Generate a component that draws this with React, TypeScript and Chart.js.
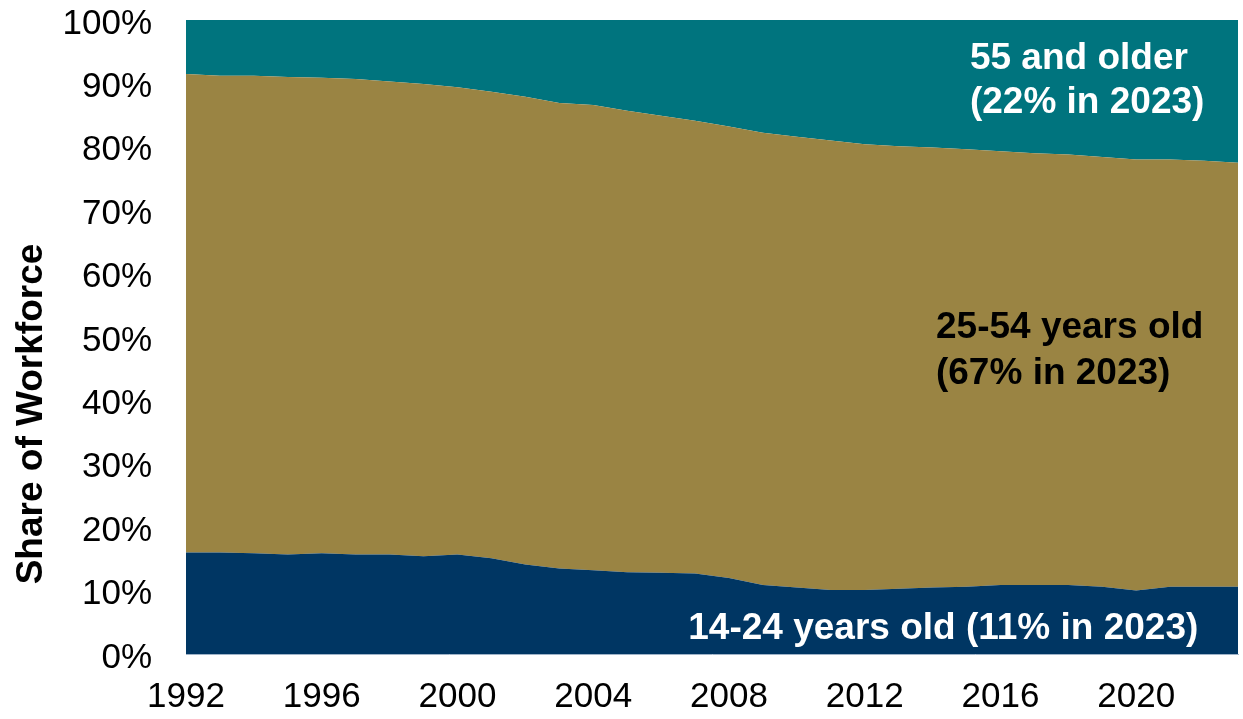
import React, { useEffect, useRef } from "react";
import { Chart, registerables } from "chart.js";

Chart.register(...registerables);

const years: string[] = [
  "1992", "1993", "1994", "1995", "1996", "1997", "1998", "1999", "2000", "2001",
  "2002", "2003", "2004", "2005", "2006", "2007", "2008", "2009", "2010", "2011",
  "2012", "2013", "2014", "2015", "2016", "2017", "2018", "2019", "2020", "2021",
  "2022", "2023",
];

const youth: number[] = [
  16.0, 16.0, 15.9, 15.7, 15.9, 15.7, 15.7, 15.4, 15.7, 15.1,
  14.1, 13.5, 13.2, 12.9, 12.8, 12.7, 12.0, 10.9, 10.5, 10.1,
  10.1, 10.3, 10.5, 10.6, 10.9, 10.9, 10.9, 10.6, 10.0, 10.6,
  10.6, 10.6,
];

const prime: number[] = [
  75.5, 75.2, 75.3, 75.3, 75.0, 75.0, 74.6, 74.5, 73.7, 73.6,
  73.8, 73.4, 73.4, 72.8, 72.1, 71.4, 71.2, 71.3, 71.1, 70.9,
  70.3, 69.8, 69.4, 69.0, 68.4, 68.1, 67.9, 67.8, 68.0, 67.4,
  67.2, 66.9,
];

const older: number[] = [
  8.5, 8.8, 8.8, 9.0, 9.1, 9.3, 9.7, 10.1, 10.6, 11.3,
  12.1, 13.1, 13.4, 14.3, 15.1, 15.9, 16.8, 17.8, 18.4, 19.0,
  19.6, 19.9, 20.1, 20.4, 20.7, 21.0, 21.2, 21.6, 22.0, 22.0,
  22.2, 22.5,
];

const yTicks: number[] = [0, 10, 20, 30, 40, 50, 60, 70, 80, 90, 100];

const seriesNames: string[] = ["14-24 years old", "25-54 years old", "55 and older"];

const FONT = "'Liberation Sans', Arial, Helvetica, sans-serif";

const annotationPlugin = {
  id: "annotations",
  afterDatasetsDraw(chart: any) {
    const { ctx, scales } = chart;
    const x = scales.x;
    const y = scales.y;
    ctx.save();
    ctx.font = `bold 37px ${FONT}`;
    ctx.textBaseline = "middle";
    ctx.textAlign = "left";

    ctx.fillStyle = "#ffffff";
    ctx.fillText("55 and older", x.getPixelForValue(23.1), y.getPixelForValue(93.9));
    ctx.fillText("(22% in 2023)", x.getPixelForValue(23.1), y.getPixelForValue(86.9));

    ctx.fillStyle = "#000000";
    ctx.fillText("25-54 years old", x.getPixelForValue(22.1), y.getPixelForValue(51.4));
    ctx.fillText("(67% in 2023)", x.getPixelForValue(22.1), y.getPixelForValue(44.2));

    ctx.fillStyle = "#ffffff";
    ctx.fillText("14-24 years old (11% in 2023)", x.getPixelForValue(14.8), y.getPixelForValue(4.0));

    // y-axis title
    ctx.save();
    ctx.translate(32, 414);
    ctx.rotate(-Math.PI / 2);
    ctx.textAlign = "center";
    ctx.fillStyle = "#000000";
    ctx.font = `bold 37px ${FONT}`;
    ctx.fillText("Share of Workforce", 0, 0);
    ctx.restore();

    ctx.restore();
  },
};

export default function App() {
  const canvasRef = useRef<HTMLCanvasElement | null>(null);

  useEffect(() => {
    if (!canvasRef.current) return;
    const chart = new Chart(canvasRef.current, {
      type: "line",
      data: {
        labels: years,
        datasets: [
          {
            label: seriesNames[0],
            data: youth,
            backgroundColor: "#003663",
            borderColor: "#003663",
            borderWidth: 0,
            pointRadius: 0,
            tension: 0,
            fill: "origin",
          },
          {
            label: seriesNames[1],
            data: prime,
            backgroundColor: "#9A8443",
            borderColor: "#9A8443",
            borderWidth: 0,
            pointRadius: 0,
            tension: 0,
            fill: "-1",
          },
          {
            label: seriesNames[2],
            data: older,
            backgroundColor: "#00747E",
            borderColor: "#00747E",
            borderWidth: 0,
            pointRadius: 0,
            tension: 0,
            fill: "-1",
          },
        ],
      },
      options: {
        animation: false,
        responsive: true,
        maintainAspectRatio: false,
        layout: { padding: { left: 0, right: 5, top: 20, bottom: 0 } },
        plugins: {
          legend: { display: false },
          tooltip: { enabled: false },
          title: { display: false },
        },
        scales: {
          x: {
            type: "category",
            offset: false,
            grid: { display: false, drawTicks: false },
            border: { display: true, color: "#9fb3c8", width: 1 },
            ticks: {
              autoSkip: false,
              maxRotation: 0,
              minRotation: 0,
              padding: 22,
              color: "#000000",
              font: { family: FONT, size: 35 },
              callback: (_v: any, idx: number) => (idx % 4 === 0 ? years[idx] : ""),
            },
            afterFit: (scale: any) => {
              scale.height = 65;
              scale.paddingLeft = 0;
              scale.paddingRight = 0;
            },
          },
          y: {
            stacked: true,
            min: 0,
            max: 100,
            grid: { display: false, drawTicks: false },
            border: { display: false },
            afterBuildTicks: (scale: any) => {
              scale.ticks = yTicks.map((v) => ({ value: v }));
            },
            ticks: {
              padding: 34,
              labelOffset: 4,
              color: "#000000",
              font: { family: FONT, size: 35 },
              callback: (v: any) => `${v}%`,
            },
            afterFit: (scale: any) => {
              scale.width = 186;
              scale.paddingTop = 0;
              scale.paddingBottom = 0;
            },
          },
        },
      },
      plugins: [annotationPlugin],
    });
    return () => chart.destroy();
  }, []);

  return (
    <div style={{ position: "fixed", left: 0, top: 0, width: 1243, height: 719, background: "#fff" }}>
      <canvas ref={canvasRef} />
    </div>
  );
}
